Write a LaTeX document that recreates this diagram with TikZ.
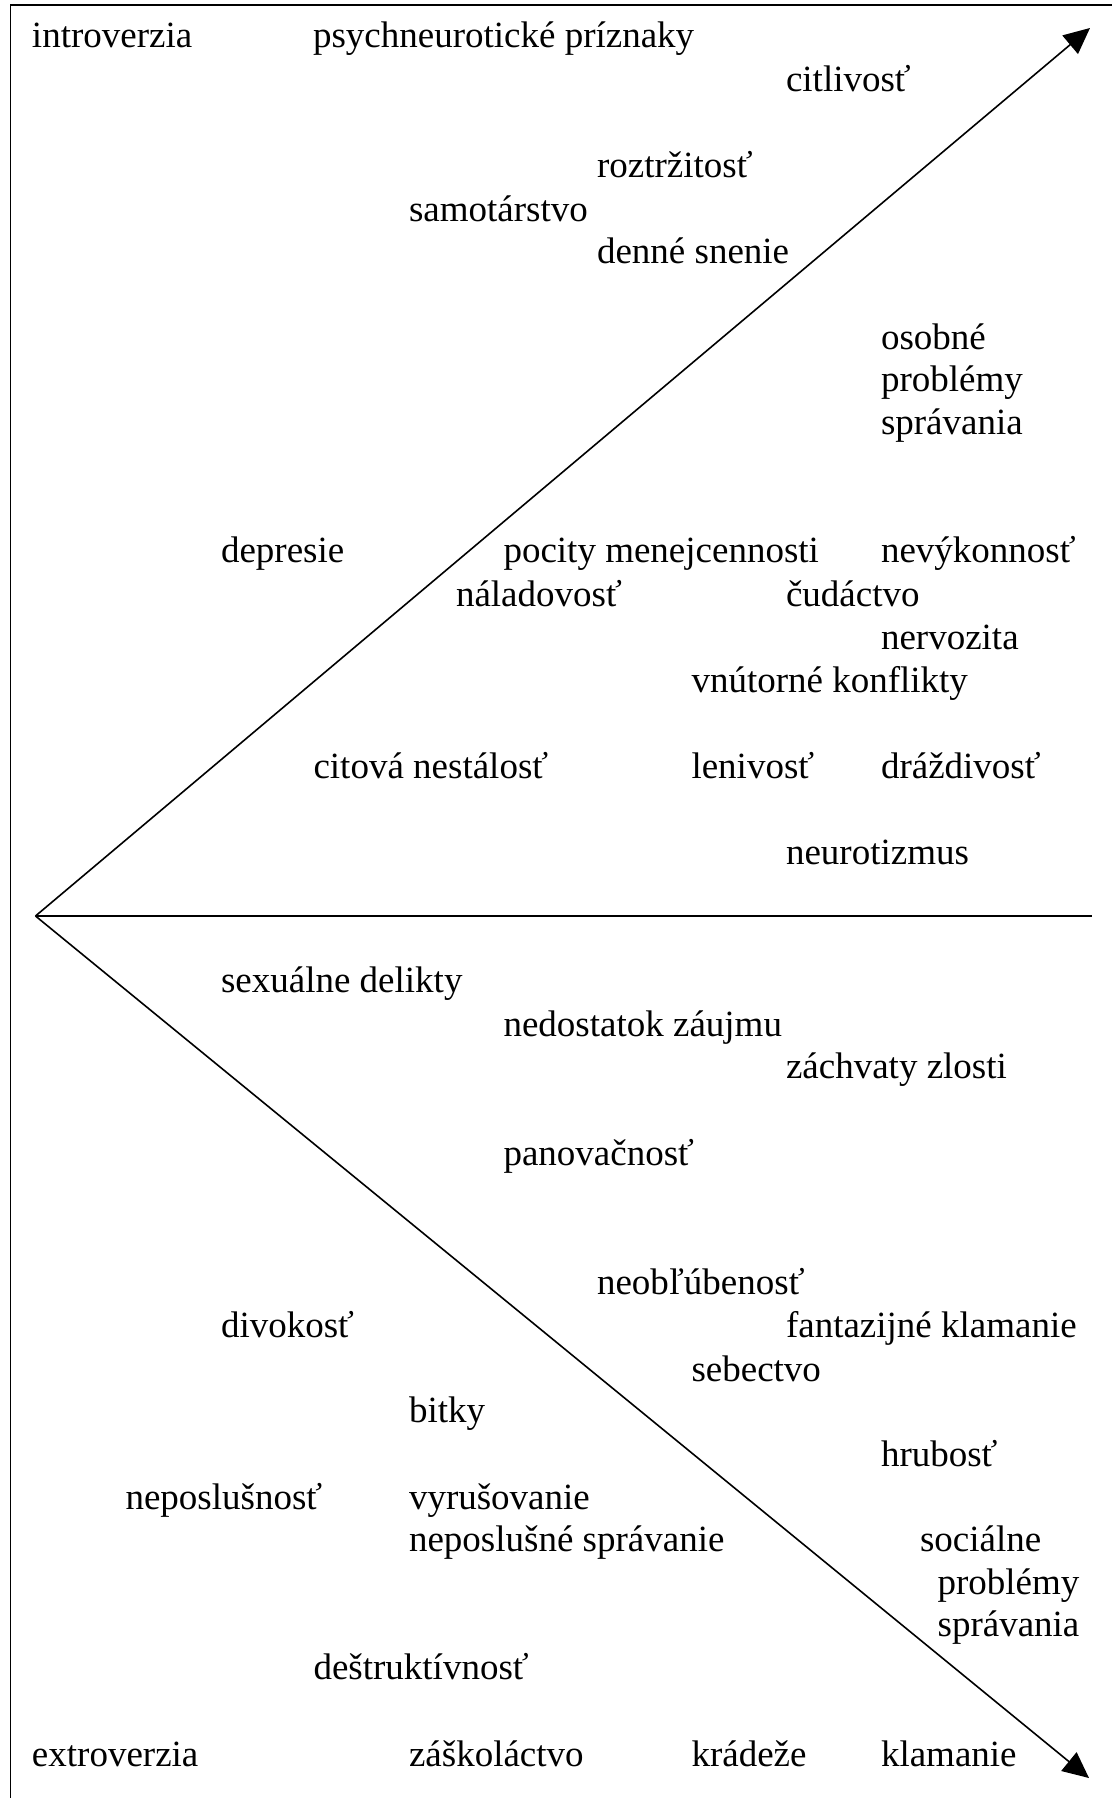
\documentclass[tikz,border=0pt]{standalone}
\usepackage{fontspec}
\setmainfont{Liberation Serif}
\usetikzlibrary{arrows.meta}
\tikzset{
  lbl/.style={anchor=base west, inner sep=0pt, outer sep=0pt, yshift=-0.5pt,
    font=\fontsize{18.5pt}{21.25pt}\selectfont},
  frameline/.style={line width=0.7pt, line cap=rect},
  axis/.style={line width=0.8pt},
  axisarrow/.style={line width=0.8pt, -{Triangle[length=13pt,width=12pt]}}
}
\newcommand{\lines}[1]{\begin{tabular}[t]{@{}l@{}}#1\end{tabular}}
\begin{document}
\begin{tikzpicture}[x=0.5pt,y=-0.5pt]
\useasboundingbox (0,0) rectangle (1112,1798);
% frame
\coordinate (fr) at (1112,5);
\coordinate (ftl) at (10.5,5);
\coordinate (fbl) at (10.5,1798);
\draw[frameline] (fr) -- (ftl) -- (fbl);
% axes
\coordinate (V) at (35.5,916);
\coordinate (T) at (1090,28);
\coordinate (B) at (1089,1778);
\coordinate (H) at (1092,916);
\draw[axisarrow] (V) -- (T);
\draw[axisarrow] (V) -- (B);
\draw[axis] (V) -- (H);
% upper labels
\node[lbl] (intro)  at (32,46.7)   {introverzia};
\node[lbl] (psych)  at (313,46.7)  {psychneurotické príznaky};
\node[lbl] (citl)   at (786,90.7)  {citlivosť};
\node[lbl] (rozt)   at (597,176.7) {roztržitosť};
\node[lbl] (samo)   at (409,220)   {samotárstvo};
\node[lbl] (denne)  at (597,262)   {denné snenie};
\node[lbl] (osob)   at (881,348.3) {\lines{osobné\\problémy\\správania}};
\node[lbl] (depr)   at (221,561.7) {depresie};
\node[lbl] (pocity) at (503.5,561.7) {pocity menejcennosti};
\node[lbl] (nevyk)  at (881,561.7) {nevýkonnosť};
\node[lbl] (nalad)  at (456,605)   {náladovosť};
\node[lbl] (cudac)  at (786,605)   {čudáctvo};
\node[lbl] (nerv)   at (881,648.3) {nervozita};
\node[lbl] (vnut)   at (691.5,691) {vnútorné konflikty};
\node[lbl] (citova) at (313.5,777.7) {citová nestálosť};
\node[lbl] (leniv)  at (691.5,777.7) {lenivosť};
\node[lbl] (drazd)  at (881,777.7) {dráždivosť};
\node[lbl] (neuro)  at (786,863.3) {neurotizmus};
% lower labels
\node[lbl] (sexual) at (221,991.7)  {sexuálne delikty};
\node[lbl] (nedost) at (503.5,1035) {nedostatok záujmu};
\node[lbl] (zachv)  at (786,1077.7) {záchvaty zlosti};
\node[lbl] (panov)  at (503.5,1164.3) {panovačnosť};
\node[lbl] (neobl)  at (597,1293.3) {neobľúbenosť};
\node[lbl] (divok)  at (221,1336.7) {divokosť};
\node[lbl] (fantaz) at (786,1336.7) {fantazijné klamanie};
\node[lbl] (sebec)  at (691.5,1380) {sebectvo};
\node[lbl] (bitky)  at (409,1421.7) {bitky};
\node[lbl] (hrub)   at (881,1465)   {hrubosť};
\node[lbl] (neposl) at (125.5,1508.3) {neposlušnosť};
\node[lbl] (vyrus)  at (409,1508.3) {vyrušovanie};
\node[lbl] (neposp) at (409,1550)   {neposlušné správanie};
\node[lbl] (social) at (920,1550)   {sociálne};
\node[lbl] (socpr)  at (937.6,1593.3) {\lines{problémy\\správania}};
\node[lbl] (destr)  at (313.5,1678.3) {deštruktívnosť};
\node[lbl] (extro)  at (32,1765)    {extroverzia};
\node[lbl] (zaskol) at (409,1765)   {záškoláctvo};
\node[lbl] (krad)   at (691.5,1765) {krádeže};
\node[lbl] (klam)   at (881,1765)   {klamanie};
\end{tikzpicture}
\end{document}
